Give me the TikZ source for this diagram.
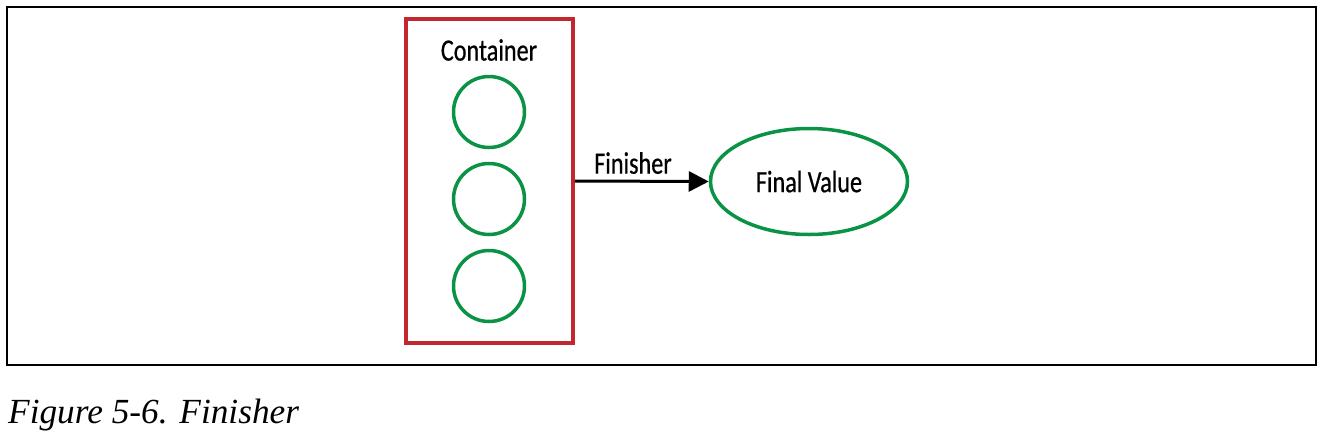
\documentclass[tikz,border=0pt]{standalone}
\usepackage{fontspec}
\setmainfont{Liberation Serif}
\newfontfamily\diagfont[FakeStretch=0.78,FakeBold=0.6]{Carlito}
\usetikzlibrary{shapes.geometric,arrows.meta}
\definecolor{boxred}{HTML}{C1272D}
\definecolor{ringgreen}{HTML}{0A9245}
\begin{document}
\begin{tikzpicture}[x=1pt,y=-1pt,
  frame/.style={draw=black,line width=1.5pt,inner sep=0pt},
  container/.style={draw=boxred,line width=3.5pt,inner sep=0pt},
  ring/.style={circle,draw=ringgreen,line width=3.5pt,minimum size=71pt,inner sep=0pt},
  result/.style={ellipse,draw=ringgreen,line width=3.5pt,minimum width=197pt,minimum height=106pt,inner sep=0pt,font=\diagfont\fontsize{31}{31}\selectfont},
  lbl/.style={font=\diagfont\fontsize{31}{31}\selectfont,inner sep=0pt},
  caption/.style={font=\itshape\fontsize{35.3}{36}\selectfont,inner sep=0pt,anchor=base west},
  conn/.style={-{Triangle[length=20pt,width=20pt]},line width=3pt,draw=black}]
\useasboundingbox (0,0) rectangle (1323,440);
\node[frame,minimum width=1309pt,minimum height=358pt] (frame) at (661.5,186) {};
\node[container,minimum width=167pt,minimum height=324pt] (box) at (489.5,181) {};
\node[lbl] (ctitle) at (489,50) {Container};
\node[ring] (r1) at (489,112) {};
\node[ring] (r2) at (489,199) {};
\node[ring] (r3) at (489,286) {};
\node[result] (val) at (809,181.5) {Final Value};
\draw[conn] (box.east) -- (val.west);
\node[lbl] (flabel) at (633,163) {Finisher};
\node[caption] (cap) at (8,423) {Figure 5-6. Finisher};
\end{tikzpicture}
\end{document}
